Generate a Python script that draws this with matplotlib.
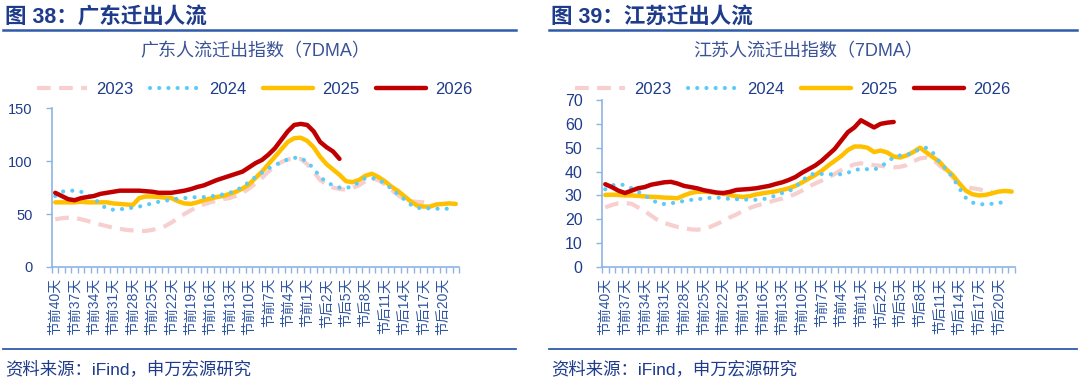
import matplotlib
matplotlib.use("Agg")
import matplotlib.pyplot as plt
from matplotlib.lines import Line2D
import numpy as np

plt.rcParams['font.family'] = ['Liberation Sans', 'Noto Sans CJK SC', 'DejaVu Sans']

# ---------------- data ----------------
categories = ['节前%d天' % d for d in range(40, 0, -1)] + ['春节'] + ['节后%d天' % d for d in range(1, 23)]

gd_2023 = [45, 46, 46.5, 46.5, 45, 43.5, 41.5, 40, 38.5, 37, 36, 35, 34.5, 34, 34, 35, 36.5, 38.5, 42, 46,
           50, 53.5, 56.5, 59, 61, 62.5, 64, 65, 67, 70, 74, 79, 84, 90, 95, 99, 101.5, 102, 102, 97,
           90, 82, 78, 75, 73.5, 73, 74.5, 77, 81, 83.5, 82, 78, 73, 68, 64, 62, 61.5, 61, 60]
gd_2024 = [67, 71, 72, 72, 71, 68, 65, 59, 55, 54, 54.5, 55, 56, 57, 58.5, 60, 61.5, 62.5, 63.5, 64.5,
           65, 65.5, 66, 66, 66.5, 67.5, 68.5, 70, 72, 76, 80, 85, 89, 93, 96, 99, 101.5, 103, 103, 99,
           93, 85, 80, 77, 75, 74.5, 76, 80, 84, 84, 82.5, 79, 74, 69, 64, 59, 56, 55, 55.5, 55, 55, 55]
gd_2025 = [61, 61, 61, 61, 61.5, 61, 61, 61, 61, 60, 59.5, 59, 58.5, 65, 66.5, 66.5, 66, 65.5, 65, 62,
           60, 59.5, 61, 63, 64.5, 66, 67, 69, 71, 74, 78, 84, 90, 97, 104, 111, 118, 121.5, 122, 119,
           113, 104, 97, 92, 87, 81, 80, 82, 86, 88, 85, 81, 76, 72, 67, 62, 58, 57, 57, 59, 59.5, 60, 59.5]
gd_2026 = [70, 67, 64, 63, 65, 66, 67, 69, 70, 71, 72, 72, 72, 72, 71.5, 71, 70, 70, 70, 71,
           72, 73.5, 75.5, 77, 79.5, 82, 84, 86, 88, 90, 94, 98, 101, 106, 112, 120, 128, 134, 135, 134,
           128, 118, 113, 109, 102]

js_2023 = [25, 26, 26.7, 26.8, 26.5, 25, 23.5, 21.5, 19.7, 18.5, 17.6, 16.8, 16.3, 15.8, 15.6, 16, 16.8, 18, 19.3, 20.8,
           22, 23.5, 24.7, 25.7, 26.4, 27.2, 28, 28.7, 29.6, 30.6, 32, 33.6, 35, 36.2, 37.5, 39, 40.6, 42, 43, 43.5,
           43, 42.7, 42.4, 42.1, 41.8, 42, 42.7, 44.3, 45.5, 45.9, 45, 42.5, 40.5, 37.5, 35, 33.6, 33, 32.6, 31.8, 31.5]
js_2024 = [32.6, 34.2, 34.7, 34.3, 33, 31.6, 30, 28.3, 26.8, 26.4, 26.7, 27.1, 27.7, 28.1, 28.4, 28.7, 29, 29.1, 28.9, 28.5,
           28.4, 28.4, 28.1, 28.2, 28.4, 29, 30, 31, 31.7, 33.5, 36, 38.5, 39.2, 39, 39, 38.7, 38.9, 39.5, 40.6, 41.1,
           41, 40.8, 42, 44, 46, 46.8, 47, 48, 49.5, 50, 47.8, 44, 41, 37.5, 33, 29, 27, 26.3, 26.3, 26.5, 26.9, 27.2]
js_2025 = [30.2, 30.3, 30.2, 30, 30, 29.8, 29.6, 29.4, 29.3, 29.1, 29, 28.8, 30, 31, 31.5, 31.6, 31.4, 31, 30.7, 30.2,
           29.6, 29.4, 29.7, 30.4, 30.9, 31.3, 31.7, 32.3, 33, 34, 35.4, 37, 38.5, 40.3, 42.5, 44.5, 46.5, 49, 50.5, 50.5,
           50, 48.2, 48.8, 48, 46.3, 45.9, 46.8, 48.2, 50, 48, 46, 44, 41, 38.5, 35, 32, 30.5, 30, 30.2, 30.9, 31.6, 31.9, 31.6]
js_2026 = [34.7, 33.5, 32, 31, 32, 33, 33.5, 34.5, 35, 35.5, 35.7, 35, 34, 33.5, 33, 32.2, 31.7, 31.2, 31, 31.5,
           32.3, 32.5, 32.7, 33, 33.5, 34, 34.8, 35.5, 36.5, 37.7, 39.5, 41, 42.5, 44.5, 47, 49.5, 53, 56.5, 58.5, 61.5,
           60, 58.5, 60, 60.5, 60.8]

years = ['2023', '2024', '2025', '2026']
left_yticks = [0, 50, 100, 150]
right_yticks = [0, 10, 20, 30, 40, 50, 60, 70]

# ---------------- style ----------------
NAVY = '#1F3C8C'
RULE = '#2F5BAA'
SPINE = '#8EB4E3'
TICKLBL = '#2E55A0'
styles = {
    '2023': dict(color='#F7CFCF', lw=3.0, ls=(0, (3.3, 2.0)), zorder=2, solid_capstyle='butt'),
    '2024': dict(color='#5CCBF7', lw=3.0, ls=(0, (0.01, 2.2)), zorder=4, dash_capstyle='round'),
    '2025': dict(color='#FFC000', lw=3.2, ls='-', zorder=3, solid_capstyle='round'),
    '2026': dict(color='#C00000', lw=3.2, ls='-', zorder=5, solid_capstyle='round'),
}

W, H = 1080, 383
fig = plt.figure(figsize=(W / 100, H / 100), dpi=100)


def fx(px):
    return px / W


def fy(py):
    return 1 - py / H


def draw_panel(series, box, ylim, yticks, ylabel_size, title, subtitle, legend_cx, header_x0, header_x1):
    x0, y0, x1, y1 = box
    ax = fig.add_axes([fx(x0), fy(y1), fx(x1 - x0), (y1 - y0) / H])
    handles = []
    for yr, vals in zip(years, series):
        st = styles[yr]
        xs = np.arange(len(vals))
        ln, = ax.plot(xs, vals, color=st['color'], lw=st['lw'], ls=st['ls'], zorder=st['zorder'],
                      dash_capstyle=st.get('dash_capstyle', 'butt'),
                      solid_capstyle=st.get('solid_capstyle', 'round'), label=yr)
        handles.append(ln)
    ax.set_xlim(-0.5, len(categories) - 0.5)
    ax.set_ylim(*ylim)
    for s in ['top', 'right']:
        ax.spines[s].set_visible(False)
    for s in ['left', 'bottom']:
        ax.spines[s].set_color(SPINE)
        ax.spines[s].set_linewidth(1.2)
    ax.set_yticks(yticks)
    ax.tick_params(axis='y', colors=SPINE, length=4, width=1, pad=10, labelcolor=NAVY, labelsize=ylabel_size)
    idx = list(range(0, len(categories), 3))
    ax.set_xticks(idx)
    ax.set_xticklabels([categories[i] for i in idx], rotation=90, fontsize=10, color=TICKLBL,
                       va='top', ha='center')
    ax.set_xticks(np.arange(-0.5, len(categories), 1), minor=True)
    ax.tick_params(axis='x', which='major', length=0, pad=8)
    ax.tick_params(axis='x', which='minor', length=4, width=1, colors=SPINE)
    ax.patch.set_alpha(0)

    # header
    fig.text(fx(header_x0 + 2), fy(17), title, fontsize=15.5, fontweight='bold', color=NAVY,
             va='center', ha='left')
    fig.add_artist(Line2D([fx(header_x0), fx(header_x1)], [fy(29.5), fy(29.5)], color=RULE, lw=1.8))
    fig.add_artist(Line2D([fx(header_x0), fx(header_x1)], [fy(349), fy(349)], color=RULE, lw=1.3))
    fig.text(fx(header_x0 + 2), fy(369), '资料来源：iFind，申万宏源研究', fontsize=12.5, color=NAVY,
             va='center', ha='left')
    # subtitle
    fig.text(fx((x0 + x1) / 2), fy(52), subtitle, fontsize=13, color='#3A5396', va='center', ha='center')
    # legend
    leg = ax.legend(handles=handles, loc='center', bbox_to_anchor=(fx(legend_cx), fy(89)),
                    bbox_transform=fig.transFigure, ncol=4, frameon=False, fontsize=12,
                    handlelength=3.0, handletextpad=0.55, columnspacing=1.0, borderaxespad=0, borderpad=0)
    for t in leg.get_texts():
        t.set_color(NAVY)
    return ax


draw_panel([gd_2023, gd_2024, gd_2025, gd_2026], (52, 108, 459, 267), (0, 150), left_yticks, 10.5,
           '图 38：广东迁出人流', '广东人流迁出指数（7DMA）', 255, 3, 516)
draw_panel([js_2023, js_2024, js_2025, js_2026], (602, 100, 1015, 267), (0, 70), right_yticks, 11.5,
           '图 39：江苏迁出人流', '江苏人流迁出指数（7DMA）', 793, 549, 1077)

fig.savefig('out.png', dpi=100)
